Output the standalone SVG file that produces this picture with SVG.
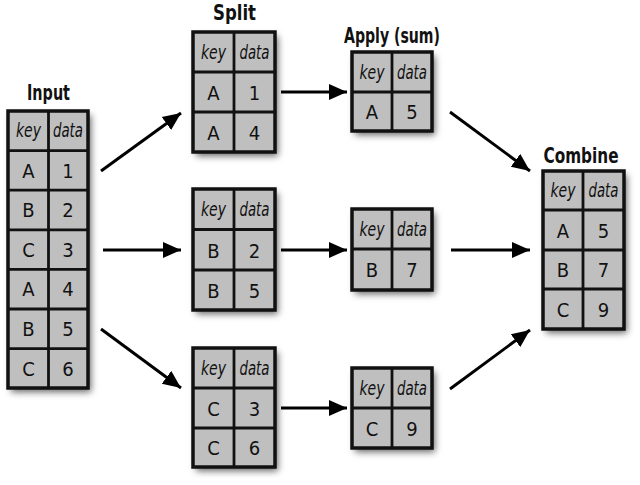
<svg xmlns="http://www.w3.org/2000/svg" width="640" height="485" viewBox="0 0 640 485">
<style>
.cell{fill:#bfbfbf;stroke:none}
.frame{fill:none;stroke:#111;stroke-width:3.5}
.grid{stroke:#111;stroke-width:2.8}
.t{font-family:"DejaVu Sans Condensed","Liberation Sans Narrow","Liberation Sans",sans-serif;font-stretch:condensed;font-size:20px;fill:#111;text-anchor:middle}
.h{font-style:italic}
.title{font-family:"DejaVu Sans Condensed","Liberation Sans Narrow","Liberation Sans",sans-serif;font-stretch:condensed;font-weight:bold;font-size:22px;fill:#111;text-anchor:middle}
.arrow{stroke:#000;stroke-width:3;fill:none;marker-end:url(#ah)}
</style>
<defs>
<filter id="sh" x="-20%" y="-20%" width="150%" height="150%">
<feDropShadow dx="3" dy="4" stdDeviation="3.5" flood-color="#000" flood-opacity="0.6"/>
</filter>
<marker id="ah" markerUnits="userSpaceOnUse" markerWidth="20" markerHeight="18" refX="18" refY="9" orient="auto">
<path d="M0,1 L18,9 L0,17 Z" fill="#000"/>
</marker>
</defs>

<g id="connectors">
<line class="arrow" x1="101" y1="171" x2="181" y2="113"/>
<line class="arrow" x1="103" y1="250" x2="181" y2="250"/>
<line class="arrow" x1="101" y1="329" x2="181" y2="388"/>
<line class="arrow" x1="281" y1="92" x2="347" y2="92"/>
<line class="arrow" x1="281" y1="250" x2="347" y2="250"/>
<line class="arrow" x1="281" y1="408" x2="347" y2="408"/>
<line class="arrow" x1="450" y1="112" x2="530" y2="171"/>
<line class="arrow" x1="451" y1="250" x2="530" y2="250"/>
<line class="arrow" x1="450" y1="389" x2="530" y2="330"/>
</g>

<g id="input">
<text class="title" x="48.5" y="100" textLength="43" lengthAdjust="spacingAndGlyphs">Input</text>
<rect class="cell" x="8" y="111" width="80" height="277" filter="url(#sh)"/>
<line class="grid" x1="48.5" y1="111" x2="48.5" y2="388"/>
<line class="grid" x1="8" y1="150.6" x2="88" y2="150.6"/>
<line class="grid" x1="8" y1="190.2" x2="88" y2="190.2"/>
<line class="grid" x1="8" y1="229.8" x2="88" y2="229.8"/>
<line class="grid" x1="8" y1="269.4" x2="88" y2="269.4"/>
<line class="grid" x1="8" y1="309" x2="88" y2="309"/>
<line class="grid" x1="8" y1="348.6" x2="88" y2="348.6"/>
<rect class="frame" x="8" y="111" width="80" height="277"/>
<text class="t h" x="28.5" y="137" textLength="25" lengthAdjust="spacingAndGlyphs">key</text>
<text class="t h" x="68" y="137" textLength="30" lengthAdjust="spacingAndGlyphs">data</text>
<text class="t" x="28.5" y="177.5">A</text><text class="t" x="68" y="177.5">1</text>
<text class="t" x="28.5" y="217">B</text><text class="t" x="68" y="217">2</text>
<text class="t" x="28.5" y="256.5">C</text><text class="t" x="68" y="256.5">3</text>
<text class="t" x="28.5" y="296">A</text><text class="t" x="68" y="296">4</text>
<text class="t" x="28.5" y="335.5">B</text><text class="t" x="68" y="335.5">5</text>
<text class="t" x="28.5" y="375.5">C</text><text class="t" x="68" y="375.5">6</text>
</g>

<g id="split-a">
<text class="title" x="234.5" y="20" textLength="43" lengthAdjust="spacingAndGlyphs">Split</text>
<rect class="cell" x="193" y="32" width="82" height="120" filter="url(#sh)"/>
<line class="grid" x1="234" y1="32" x2="234" y2="152"/>
<line class="grid" x1="193" y1="72" x2="275" y2="72"/>
<line class="grid" x1="193" y1="112" x2="275" y2="112"/>
<rect class="frame" x="193" y="32" width="82" height="120"/>
<text class="t h" x="213.5" y="58.5" textLength="25" lengthAdjust="spacingAndGlyphs">key</text>
<text class="t h" x="254.5" y="58.5" textLength="30" lengthAdjust="spacingAndGlyphs">data</text>
<text class="t" x="213.5" y="99.5">A</text><text class="t" x="254.5" y="99.5">1</text>
<text class="t" x="213.5" y="139.5">A</text><text class="t" x="254.5" y="139.5">4</text>
</g>

<g id="split-b">
<rect class="cell" x="193" y="189" width="82" height="121" filter="url(#sh)"/>
<line class="grid" x1="234" y1="189" x2="234" y2="310"/>
<line class="grid" x1="193" y1="229.5" x2="275" y2="229.5"/>
<line class="grid" x1="193" y1="270" x2="275" y2="270"/>
<rect class="frame" x="193" y="189" width="82" height="121"/>
<text class="t h" x="213.5" y="215.5" textLength="25" lengthAdjust="spacingAndGlyphs">key</text>
<text class="t h" x="254.5" y="215.5" textLength="30" lengthAdjust="spacingAndGlyphs">data</text>
<text class="t" x="213.5" y="257.5">B</text><text class="t" x="254.5" y="257.5">2</text>
<text class="t" x="213.5" y="297.5">B</text><text class="t" x="254.5" y="297.5">5</text>
</g>

<g id="split-c">
<rect class="cell" x="193" y="348" width="82" height="119" filter="url(#sh)"/>
<line class="grid" x1="234" y1="348" x2="234" y2="467"/>
<line class="grid" x1="193" y1="388" x2="275" y2="388"/>
<line class="grid" x1="193" y1="428" x2="275" y2="428"/>
<rect class="frame" x="193" y="348" width="82" height="119"/>
<text class="t h" x="213.5" y="374.5" textLength="25" lengthAdjust="spacingAndGlyphs">key</text>
<text class="t h" x="254.5" y="374.5" textLength="30" lengthAdjust="spacingAndGlyphs">data</text>
<text class="t" x="213.5" y="415.5">C</text><text class="t" x="254.5" y="415.5">3</text>
<text class="t" x="213.5" y="455">C</text><text class="t" x="254.5" y="455">6</text>
</g>

<g id="apply-a">
<text class="title" x="392" y="43" textLength="96" lengthAdjust="spacingAndGlyphs">Apply (sum)</text>
<rect class="cell" x="352" y="52" width="80" height="79" filter="url(#sh)"/>
<line class="grid" x1="392" y1="52" x2="392" y2="131"/>
<line class="grid" x1="352" y1="92" x2="432" y2="92"/>
<rect class="frame" x="352" y="52" width="80" height="79"/>
<text class="t h" x="372" y="78.5" textLength="25" lengthAdjust="spacingAndGlyphs">key</text>
<text class="t h" x="412" y="78.5" textLength="30" lengthAdjust="spacingAndGlyphs">data</text>
<text class="t" x="372" y="118.5">A</text><text class="t" x="412" y="118.5">5</text>
</g>

<g id="apply-b">
<rect class="cell" x="352" y="209" width="80" height="81" filter="url(#sh)"/>
<line class="grid" x1="392" y1="209" x2="392" y2="290"/>
<line class="grid" x1="352" y1="249" x2="432" y2="249"/>
<rect class="frame" x="352" y="209" width="80" height="81"/>
<text class="t h" x="372" y="235.5" textLength="25" lengthAdjust="spacingAndGlyphs">key</text>
<text class="t h" x="412" y="235.5" textLength="30" lengthAdjust="spacingAndGlyphs">data</text>
<text class="t" x="372" y="276.5">B</text><text class="t" x="412" y="276.5">7</text>
</g>

<g id="apply-c">
<rect class="cell" x="352" y="368" width="80" height="80" filter="url(#sh)"/>
<line class="grid" x1="392" y1="368" x2="392" y2="448"/>
<line class="grid" x1="352" y1="408" x2="432" y2="408"/>
<rect class="frame" x="352" y="368" width="80" height="80"/>
<text class="t h" x="372" y="394.5" textLength="25" lengthAdjust="spacingAndGlyphs">key</text>
<text class="t h" x="412" y="394.5" textLength="30" lengthAdjust="spacingAndGlyphs">data</text>
<text class="t" x="372" y="435.5">C</text><text class="t" x="412" y="435.5">9</text>
</g>

<g id="combine">
<text class="title" x="581" y="163" textLength="75" lengthAdjust="spacingAndGlyphs">Combine</text>
<rect class="cell" x="543" y="171" width="81" height="158" filter="url(#sh)"/>
<line class="grid" x1="583" y1="171" x2="583" y2="329"/>
<line class="grid" x1="543" y1="210" x2="624" y2="210"/>
<line class="grid" x1="543" y1="250" x2="624" y2="250"/>
<line class="grid" x1="543" y1="289" x2="624" y2="289"/>
<rect class="frame" x="543" y="171" width="81" height="158"/>
<text class="t h" x="563" y="196.5" textLength="25" lengthAdjust="spacingAndGlyphs">key</text>
<text class="t h" x="603.5" y="196.5" textLength="30" lengthAdjust="spacingAndGlyphs">data</text>
<text class="t" x="563" y="237.5">A</text><text class="t" x="603.5" y="237.5">5</text>
<text class="t" x="563" y="276.5">B</text><text class="t" x="603.5" y="276.5">7</text>
<text class="t" x="563" y="316.5">C</text><text class="t" x="603.5" y="316.5">9</text>
</g>
</svg>
